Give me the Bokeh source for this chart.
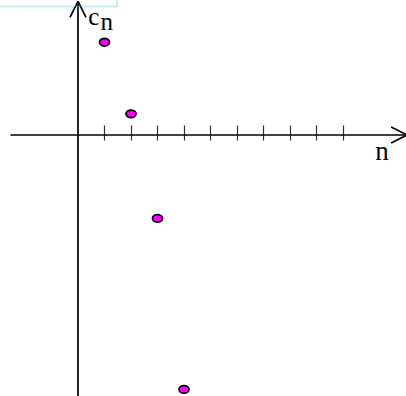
from bokeh.plotting import figure
from bokeh.models import (Range1d, FixedTicker, Arrow, OpenHead, Label, BoxAnnotation,
                          CustomJSTickFormatter)
from bokeh.embed import file_html
from bokeh.resources import INLINE

# data
n_vals = [1, 2, 3, 4]
c_vals = [3.5, 0.8, -3.15, -9.6]
tick_positions = [1, 2, 3, 4, 5, 6, 7, 8, 9, 10]

X0, X1 = -2.9245, 12.396
Y0, Y1 = -9.868, 5.075

p = figure(width=406, height=396, x_range=Range1d(X0, X1), y_range=Range1d(Y0, Y1),
           output_backend="svg", toolbar_location=None, min_border=0,
           outline_line_color=None, background_fill_color="white")
p.grid.visible = False
p.yaxis.visible = False

ax = p.xaxis[0]
ax.fixed_location = 0
ax.axis_line_color = None
ax.ticker = FixedTicker(ticks=tick_positions)
ax.formatter = CustomJSTickFormatter(code="return ''")
ax.major_tick_in = 9
ax.major_tick_out = 6
ax.major_tick_line_color = "#333333"
ax.major_tick_line_width = 1.2
ax.minor_tick_line_color = None
ax.major_label_standoff = 0

# axes with open arrow heads
p.add_layout(Arrow(end=OpenHead(size=16, line_width=1.7, line_color="black"),
                   x_start=-2.547, y_start=0, x_end=12.42, y_end=0,
                   line_width=1.7, line_color="black"))
p.add_layout(Arrow(end=OpenHead(size=16, line_width=1.7, line_color="black"),
                   x_start=0, y_start=Y0 - 1, x_end=0, y_end=5.04,
                   line_width=1.7, line_color="black"))

# title box remnant
p.add_layout(BoxAnnotation(left=X0 - 1, right=1.48, bottom=4.85, top=Y1 + 1,
                           fill_color=None, line_color="#33CCCC", line_width=2))

# points
p.ellipse(x=n_vals, y=c_vals, width=10, height=7.5, width_units="screen",
          height_units="screen", fill_color="#FF00FF", line_color="black", line_width=1.8)

# labels
for x, y, t, fs in [(0.39, 4.46, "c", "25px"), (0.85, 4.27, "n", "25px"),
                    (11.22, -0.59, "n", "27px")]:
    p.add_layout(Label(x=x, y=y, text=t, text_font="Liberation Serif",
                       text_font_size=fs, text_color="black",
                       text_baseline="alphabetic", text_align="left"))

open("out.html", "w").write(file_html(p, INLINE))
